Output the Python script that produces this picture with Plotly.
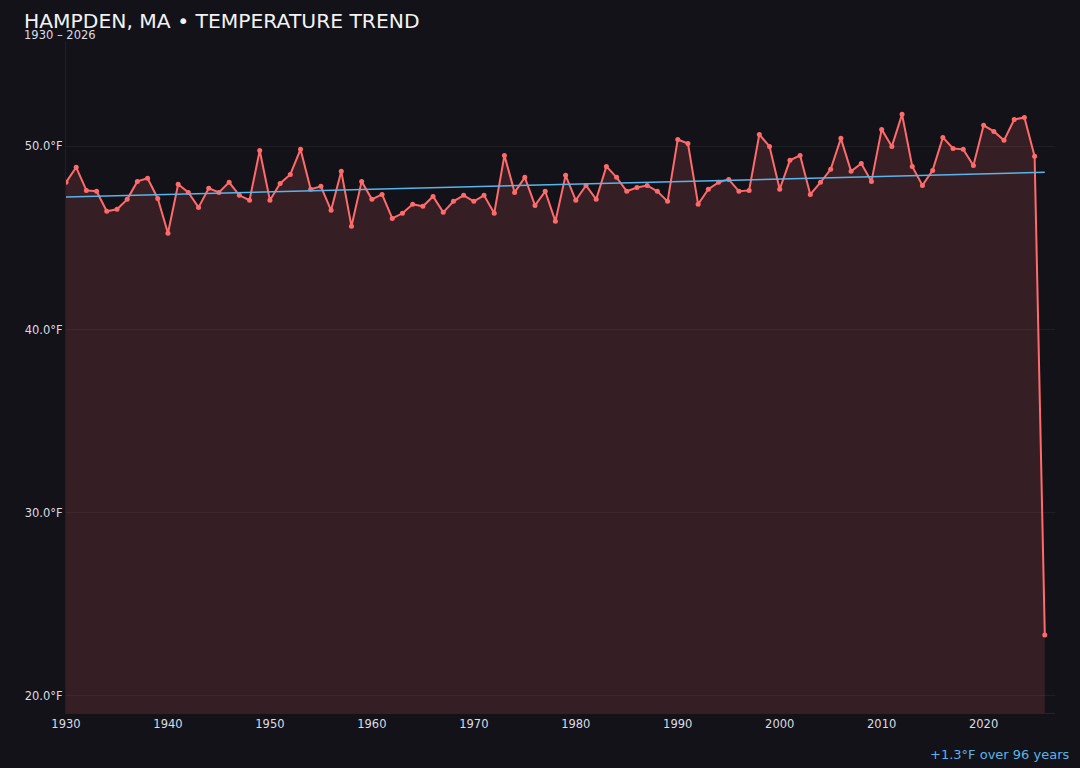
import numpy as np
import plotly.graph_objs as go

# Annual mean temperature (°F), Hampden MA
years = list(range(1930, 2027))
temps = [
    48.04, 48.86, 47.60, 47.55, 46.46, 46.57, 47.11, 48.09, 48.26, 47.16,  # 1930s
    45.26, 47.93, 47.49, 46.67, 47.71, 47.49, 48.04, 47.33, 47.06, 49.78,  # 1940s
    47.06, 47.98, 48.47, 49.84, 47.66, 47.82, 46.51, 48.64, 45.64, 48.09,  # 1950s
    47.11, 47.38, 46.07, 46.35, 46.84, 46.73, 47.27, 46.40, 47.00, 47.33,  # 1960s
    47.00, 47.33, 46.35, 49.51, 47.49, 48.31, 46.78, 47.55, 45.91, 48.42,  # 1970s
    47.06, 47.87, 47.11, 48.91, 48.31, 47.55, 47.76, 47.87, 47.55, 47.00,  # 1980s
    50.38, 50.16, 46.84, 47.66, 48.04, 48.20, 47.55, 47.60, 50.65, 50.00,  # 1990s
    47.66, 49.24, 49.51, 47.38, 48.04, 48.75, 50.44, 48.64, 49.07, 48.09,  # 2000s
    50.93, 50.00, 51.75, 48.91, 47.87, 48.69, 50.49, 49.89, 49.84, 48.96,  # 2010s
    51.15, 50.82, 50.33, 51.47, 51.58, 49.46, 23.33,                      # 2020s
]

tick_years = [1930, 1940, 1950, 1960, 1970, 1980, 1990, 2000, 2010, 2020]
tick_temps = [20, 30, 40, 50]

BG = '#131218'
LINE = '#ff6b6b'
TREND = '#5ab4ea'
TEXT = '#e8e8ec'

# Linear trend over every year in the record
slope, intercept = np.polyfit(np.array(years), np.array(temps), 1)
trend_x = [years[0], years[-1]]
trend_y = [slope * x + intercept for x in trend_x]

fig = go.Figure()

fig.add_trace(go.Scatter(
    x=years, y=temps,
    mode='lines+markers',
    fill='tozeroy',
    fillcolor='rgba(255,107,107,0.15)',
    line=dict(color=LINE, width=2),
    marker=dict(color=LINE, size=5),
    hovertemplate='%{x}: %{y:.1f}°F<extra></extra>',
    showlegend=False,
))

fig.add_trace(go.Scatter(
    x=trend_x, y=trend_y,
    mode='lines',
    line=dict(color=TREND, width=1.5),
    hoverinfo='skip',
    showlegend=False,
))

fig.update_layout(
    width=1080,
    height=768,
    paper_bgcolor=BG,
    plot_bgcolor=BG,
    font=dict(family='DejaVu Sans', color=TEXT, size=11.5),
    margin=dict(l=66, r=25, t=42, b=55),
    title=dict(
        text='HAMPDEN, MA • TEMPERATURE TREND',
        font=dict(size=20.3, color='#f2f2f5'),
        x=24 / 1080, xanchor='left', xref='container',
        y=1 - 21 / 768, yanchor='middle', yref='container',
    ),
    annotations=[
        dict(
            text='1930 – 2026',
            xref='paper', yref='paper',
            x=-44 / 989, y=(713 - 35) / 671,
            xanchor='left', yanchor='middle',
            showarrow=False,
            font=dict(size=11.5, color='#dcdce2'),
        ),
        dict(
            text='+1.3°F over 96 years',
            xref='paper', yref='paper',
            x=(1071 - 66) / 989, y=(713 - 755) / 671,
            xanchor='right', yanchor='middle',
            showarrow=False,
            font=dict(size=13, color=TREND),
        ),
    ],
)

fig.update_xaxes(
    range=[1930, 2027],
    tickvals=tick_years,
    ticktext=[str(y) for y in tick_years],
    showgrid=False,
    showline=True,
    linecolor='rgba(255,255,255,0.08)',
    zeroline=False,
    tickfont=dict(size=11.5, color='#dcdce2'),
)
fig.update_yaxes(
    range=[19.07, 55.7],
    tickvals=tick_temps,
    ticktext=[f'{t:.1f}°F' for t in tick_temps],
    showgrid=True,
    gridcolor='rgba(255,255,255,0.05)',
    showline=True,
    linecolor='rgba(255,255,255,0.06)',
    zeroline=False,
    tickfont=dict(size=11.5, color='#dcdce2'),
)

# page has a default body margin; drop it so the chart sits flush in the window
fig.write_html("out.html", config={'displayModeBar': False},
               post_script="document.body.style.margin='0';")
